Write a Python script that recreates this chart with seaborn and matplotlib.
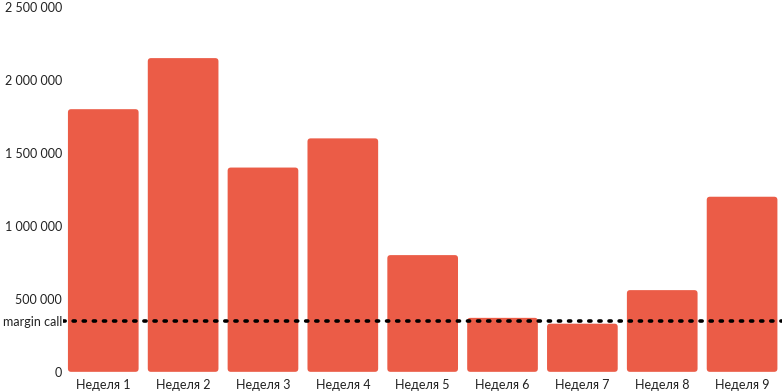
import matplotlib
matplotlib.use("Agg")
import matplotlib.pyplot as plt
import seaborn as sns
import pandas as pd
from matplotlib.patches import FancyBboxPatch

weeks = [f"Неделя {i}" for i in range(1, 10)]
balance = [1800000, 2150000, 1400000, 1600000, 800000, 370000, 330000, 560000, 1200000]
margin_call = 350000
tick_values = [0, 500000, 1000000, 1500000, 2000000, 2500000]
tick_labels = ["0", "500 000", "1 000 000", "1 500 000", "2 000 000", "2 500 000"]

BAR_COLOR = "#eb5c47"

sns.set_theme(style="white")
plt.rcParams["font.family"] = ["Lato", "DejaVu Sans"]

df = pd.DataFrame({"week": weeks, "balance": balance})

fig = plt.figure(figsize=(7.82, 3.91), dpi=100)
ax = fig.add_axes([0.081, 0.049, 0.919, 0.933])

sns.barplot(data=df, x="week", y="balance", color=BAR_COLOR, saturation=1,
            width=0.885, ax=ax)

# rounded corners on the bars
aspect = 548000
for p in list(ax.patches):
    x, y = p.get_x(), p.get_y()
    w, h = p.get_width(), p.get_height()
    rb = FancyBboxPatch((x, y), w, h, boxstyle="round,pad=0,rounding_size=0.04",
                        mutation_aspect=aspect, facecolor=BAR_COLOR,
                        edgecolor="none", zorder=2)
    p.remove()
    ax.add_patch(rb)

ax.axhline(margin_call, color="black", linestyle=(0, (0.6, 2.2)), linewidth=2.6,
           dash_capstyle="round", zorder=3)

ax.set_ylim(0, 2500000)
ax.set_xlim(-0.5, 8.5)
ax.set_yticks(tick_values + [margin_call])
ax.set_yticklabels(tick_labels + ["margin call"])
ax.tick_params(axis="both", length=0, labelsize=9, colors="#222222")
ax.tick_params(axis="y", pad=1)
ax.tick_params(axis="x", pad=5)
ax.set_xlabel("")
ax.set_ylabel("")
sns.despine(ax=ax, left=True, bottom=True)

fig.savefig("out.png", dpi=100)
